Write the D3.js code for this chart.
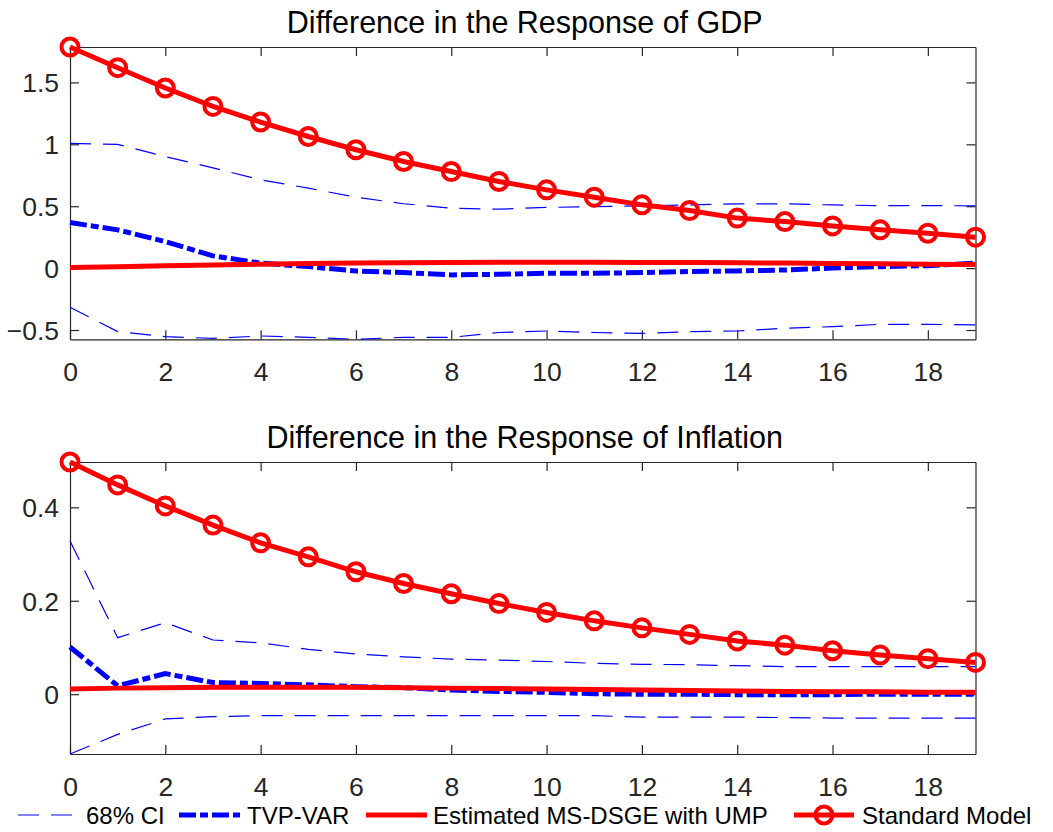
<!DOCTYPE html>
<html>
<head>
<meta charset="utf-8">
<script src="https://cdn.jsdelivr.net/npm/d3@7"></script>
<style>
  body { margin: 0; background: #fff; }
  svg { display: block; font-family: "Liberation Sans", Arial, Helvetica, sans-serif; }
</style>
</head>
<body>
<svg id="chart" width="1053" height="832"></svg>
<script>
// horizon (quarters)
var horizon = d3.range(0, 20);

// GDP panel
var gdpUpper = [1.007, 1.0, 0.90, 0.81, 0.713, 0.646, 0.573, 0.52, 0.484, 0.476,
                0.49, 0.497, 0.503, 0.511, 0.519, 0.519, 0.51, 0.505, 0.505, 0.503];
var gdpLower = [-0.316, -0.513, -0.554, -0.567, -0.548, -0.559, -0.575, -0.559, -0.559, -0.52,
                -0.508, -0.52, -0.527, -0.513, -0.508, -0.486, -0.473, -0.454, -0.454, -0.459];
var gdpTvp = [0.368, 0.309, 0.214, 0.099, 0.04, 0.012, -0.023, -0.036, -0.055, -0.05,
              -0.042, -0.042, -0.036, -0.028, -0.023, -0.015, 0.0, 0.012, 0.02, 0.04];
var gdpMs = [0.005, 0.012, 0.019, 0.026, 0.032, 0.037, 0.041, 0.044, 0.046, 0.047,
             0.047, 0.047, 0.046, 0.045, 0.043, 0.041, 0.038, 0.035, 0.032, 0.029];
var gdpStd = [1.786, 1.619, 1.455, 1.306, 1.18, 1.063, 0.956, 0.861, 0.78, 0.70,
              0.632, 0.573, 0.511, 0.465, 0.404, 0.376, 0.341, 0.309, 0.282, 0.25];

// Inflation panel
var infUpper = [0.328, 0.121, 0.153, 0.116, 0.11, 0.096, 0.086, 0.08, 0.075, 0.073,
                0.07, 0.066, 0.064, 0.063, 0.061, 0.059, 0.059, 0.059, 0.059, 0.059];
var infLower = [-0.128, -0.086, -0.053, -0.048, -0.046, -0.046, -0.046, -0.046, -0.046, -0.046,
                -0.046, -0.046, -0.049, -0.049, -0.049, -0.05, -0.051, -0.051, -0.051, -0.051];
var infTvp = [0.101, 0.018, 0.044, 0.025, 0.023, 0.02, 0.016, 0.014, 0.009, 0.006,
              0.004, 0.001, 0.0, 0.0, -0.001, -0.001, -0.001, 0.0, 0.0, 0.0];
var infMs = [0.011, 0.013, 0.014, 0.015, 0.015, 0.015, 0.015, 0.014, 0.013, 0.012,
             0.011, 0.010, 0.009, 0.008, 0.007, 0.006, 0.005, 0.005, 0.004, 0.004];
var infStd = [0.497, 0.448, 0.403, 0.362, 0.324, 0.294, 0.262, 0.237, 0.215, 0.194,
              0.175, 0.157, 0.142, 0.128, 0.114, 0.105, 0.093, 0.084, 0.076, 0.068];

var xTicks = [0, 2, 4, 6, 8, 10, 12, 14, 16, 18];
var gdpTicks = [-0.5, 0, 0.5, 1, 1.5];
var infTicks = [0, 0.2, 0.4];

var legendLabels = ["68% CI", "TVP-VAR", "Estimated MS-DSGE with UMP", "Standard Model"];

var svg = d3.select("#chart");
var axisColor = "#262626";

var panels = [
    { title: "Difference in the Response of GDP", top: 47, bottom: 339.3, titleY: 33,
      upper: gdpUpper, lower: gdpLower, tvp: gdpTvp, ms: gdpMs, std: gdpStd, yTicks: gdpTicks },
    { title: "Difference in the Response of Inflation", top: 462, bottom: 754, titleY: 448,
      upper: infUpper, lower: infLower, tvp: infTvp, ms: infMs, std: infStd, yTicks: infTicks }
];

var left = 70, right = 975.5;

var x = d3.scaleLinear().domain([0, 19]).range([left, right]);

// line styles, shared with the legend
var styles = {
    ci:  { stroke: "#0000ff", width: 1.2, dash: "21,12" },
    tvp: { stroke: "#0000ff", width: 5, dash: "17,4,8,4" },
    ms:  { stroke: "#ff0000", width: 5, dash: null },
    std: { stroke: "#ff0000", width: 5, dash: null }
};

function styled(sel, s) {
    sel.attr("fill", "none")
        .attr("stroke", s.stroke)
        .attr("stroke-width", s.width)
        .attr("stroke-dasharray", s.dash);
    return sel;
}

panels.forEach(function(p) {
    var all = p.upper.concat(p.lower, p.tvp, p.ms, p.std);
    var y = d3.scaleLinear().domain(d3.extent(all)).range([p.bottom, p.top]);

    var g = svg.append("g");

    var clipId = "clip" + p.top;
    g.append("clipPath").attr("id", clipId)
        .append("rect")
        .attr("x", left - 12).attr("y", p.top - 12)
        .attr("width", right - left + 24).attr("height", p.bottom - p.top + 24);

    var line = function(vals) {
        return d3.line()
            .x(function(d, i) { return x(horizon[i]); })
            .y(function(d) { return y(d); })(vals);
    };

    // axes: bottom + left with labels, top + right as box with inward ticks
    var bottomAxis = g.append("g")
        .attr("transform", "translate(0," + p.bottom + ")")
        .call(d3.axisBottom(x).tickValues(xTicks).tickSizeInner(-9).tickSizeOuter(0).tickPadding(23));
    var topAxis = g.append("g")
        .attr("transform", "translate(0," + p.top + ")")
        .call(d3.axisTop(x).tickValues(xTicks).tickSizeInner(-9).tickSizeOuter(0).tickFormat(""));
    var leftAxis = g.append("g")
        .attr("transform", "translate(" + left + ",0)")
        .call(d3.axisLeft(y).tickValues(p.yTicks).tickSizeInner(-9).tickSizeOuter(0).tickPadding(11)
            .tickFormat(function(d) { return d3.format("")(+d.toFixed(2)); }));
    var rightAxis = g.append("g")
        .attr("transform", "translate(" + right + ",0)")
        .call(d3.axisRight(y).tickValues(p.yTicks).tickSizeInner(-9).tickSizeOuter(0).tickFormat(""));

    [bottomAxis, topAxis, leftAxis, rightAxis].forEach(function(a) {
        a.select(".domain").attr("stroke", axisColor).attr("stroke-width", 1.2);
        a.selectAll(".tick line").attr("stroke", axisColor).attr("stroke-width", 1.2);
        a.selectAll("text").attr("fill", axisColor)
            .style("font-family", "'Liberation Sans', Arial, sans-serif")
            .style("font-size", "26.5px");
    });
    leftAxis.selectAll("text").attr("dy", "0.36em");

    var plot = g.append("g").attr("clip-path", "url(#" + clipId + ")");

    styled(plot.append("path").attr("d", line(p.upper)), styles.ci);
    styled(plot.append("path").attr("d", line(p.lower)), styles.ci);
    styled(plot.append("path").attr("d", line(p.tvp)), styles.tvp);
    styled(plot.append("path").attr("d", line(p.ms)), styles.ms);
    styled(plot.append("path").attr("d", line(p.std)), styles.std);

    plot.selectAll("circle.std")
        .data(p.std)
        .enter().append("circle")
        .attr("class", "std")
        .attr("cx", function(d, i) { return x(horizon[i]); })
        .attr("cy", function(d) { return y(d); })
        .attr("r", 8.5)
        .attr("fill", "none")
        .attr("stroke", "#ff0000")
        .attr("stroke-width", 4);

    g.append("text")
        .attr("x", (left + right) / 2 + 2)
        .attr("y", p.titleY)
        .attr("text-anchor", "middle")
        .attr("fill", "#000")
        .style("font-size", "30.5px")
        .text(p.title);
});

// legend along the bottom
var legendItems = [
    { label: legendLabels[0], style: styles.ci, x0: 18, x1: 72, tx: 86, marker: false },
    { label: legendLabels[1], style: styles.tvp, x0: 179, x1: 240, tx: 247, marker: false },
    { label: legendLabels[2], style: styles.ms, x0: 366, x1: 427, tx: 433, marker: false },
    { label: legendLabels[3], style: styles.std, x0: 794, x1: 854, tx: 862, marker: true }
];
var legendY = 815;

var legend = svg.append("g").attr("class", "legend");
legendItems.forEach(function(item) {
    styled(legend.append("line")
        .attr("x1", item.x0).attr("x2", item.x1)
        .attr("y1", legendY).attr("y2", legendY), item.style);
    if (item.marker) {
        legend.append("circle")
            .attr("cx", (item.x0 + item.x1) / 2).attr("cy", legendY)
            .attr("r", 8.5).attr("fill", "none")
            .attr("stroke", "#ff0000").attr("stroke-width", 4);
    }
    legend.append("text")
        .attr("x", item.tx).attr("y", legendY)
        .attr("dy", "0.36em")
        .attr("fill", "#000")
        .style("font-size", "24px")
        .text(item.label);
});
</script>
</body>
</html>
